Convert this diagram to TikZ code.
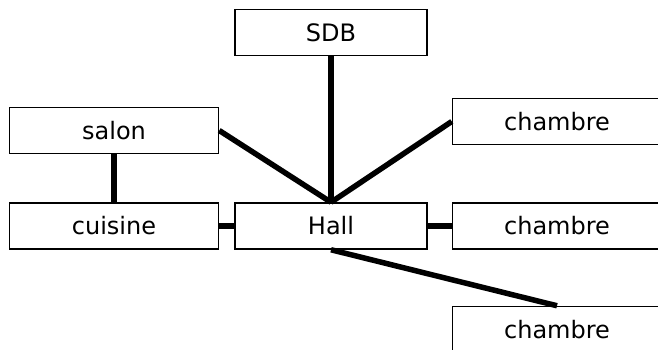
\documentclass[tikz,border=0pt]{standalone}
\usepackage{fontspec}
\setmainfont{DejaVu Sans}
\usetikzlibrary{positioning}

\begin{document}
\begin{tikzpicture}[
    x=1pt, y=-1pt,
    room/.style={draw, line width=1.5pt, minimum height=46pt, inner sep=0pt, font=\fontsize{24}{28}\selectfont},
    narrow/.style={room, minimum width=192pt},
    wide/.style={room, minimum width=209pt},
    link/.style={line width=5.5pt},
  ]
  \useasboundingbox (0,0) rectangle (658,349);

  % Centre
  \node[narrow] (hall) at (331,226) {Hall};

  % Rooms around the hall
  \node[narrow, above=146pt of hall] (sdb) {SDB};
  \node[wide, left=15pt of hall] (cuisine) {cuisine};
  \node[wide, above=48pt of cuisine] (salon) {salon};
  \node[wide, right=24pt of hall] (ch2) {chambre};
  \node[wide, above=57pt of ch2] (ch1) {chambre};
  \node[wide, below=56pt of ch2] (ch3) {chambre};

  % Links
  \draw[link] (sdb) -- (hall.north);
  \draw[link] (salon.east) -- (hall.north);
  \draw[link] (ch1.west) -- (hall.north);
  \draw[link] (salon) -- (cuisine);
  \draw[link] (cuisine) -- (hall);
  \draw[link] (hall) -- (ch2);
  \draw[link] (hall.south) -- (ch3.north);
\end{tikzpicture}
\end{document}
